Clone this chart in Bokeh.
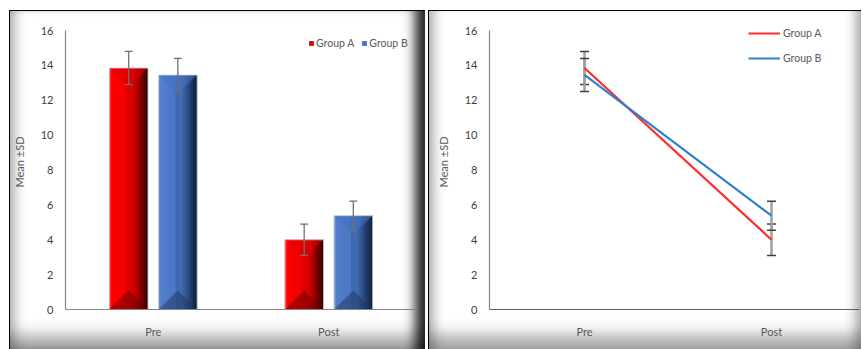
from bokeh.plotting import figure
from bokeh.models import (Range1d, FixedTicker, ColumnDataSource, Whisker, TeeHead,
                          Legend, LegendItem)
from bokeh.layouts import row
from bokeh.embed import file_html
from bokeh.resources import INLINE

# ---------------- data ----------------
categories = ["Pre", "Post"]
groups = ["Group A", "Group B"]
means_a = [13.85, 4.0]
sd_a = [0.95, 0.9]
means_b = [13.45, 5.38]
sd_b = [0.95, 0.83]
y_ticks = [0, 2, 4, 6, 8, 10, 12, 14, 16]
y_label = "Mean ±SD"

# ---------------- style ----------------
FONT = "Lato"
TICK_COLOR = "#404040"
LABEL_COLOR = "#595959"
AXIS_COLOR = "#868686"

positions = [i + 0.5 for i in range(len(categories))]

def style_axes(p):
    p.grid.visible = False
    p.xaxis.ticker = FixedTicker(ticks=positions)
    p.xaxis.major_label_overrides = {pos: c for pos, c in zip(positions, categories)}
    p.yaxis.ticker = FixedTicker(ticks=y_ticks)
    p.yaxis.bounds = (y_ticks[0], y_ticks[-1])
    for ax in (p.xaxis, p.yaxis):
        ax.axis_line_color = AXIS_COLOR
        ax.axis_line_width = 1.2
        ax.major_tick_line_color = None
        ax.minor_tick_line_color = None
        ax.major_tick_out = 0
        ax.major_tick_in = 0
        ax.minor_tick_out = 0
        ax.major_label_text_font = FONT
        ax.major_label_text_font_size = "11px"
    p.yaxis.major_label_text_color = TICK_COLOR
    p.xaxis.major_label_text_color = LABEL_COLOR
    p.yaxis.major_label_standoff = 12
    p.xaxis.major_label_standoff = 15
    p.yaxis.axis_label = y_label
    p.yaxis.axis_label_text_font = FONT
    p.yaxis.axis_label_text_font_size = "11px"
    p.yaxis.axis_label_text_font_style = "normal"
    p.yaxis.axis_label_text_color = LABEL_COLOR
    p.yaxis.axis_label_standoff = 12

PLOT_H = 339
FRAME_16 = 279                     # pixels spanned by 0..16
TOP_PAD = 4                        # figure top -> frame top
EXTRA = 16                         # frame top -> "16" tick (room for legends)
Y_MAX = y_ticks[-1]
px = Y_MAX / FRAME_16              # data units per pixel (styling only)
Y_END = Y_MAX + EXTRA * px
BOTTOM = PLOT_H - TOP_PAD - EXTRA - FRAME_16

# ---------------- bar chart ----------------
p1 = figure(width=416, height=PLOT_H, x_range=Range1d(0, 2), y_range=Range1d(0, Y_END),
            title=None, output_backend="svg", toolbar_location=None,
            min_border_left=53, min_border_right=9, min_border_top=TOP_PAD,
            min_border_bottom=BOTTOM,
            border_fill_color=None, background_fill_color=None, outline_line_color=None)
p1.margin = (10, 0, 0, 9)
style_axes(p1)
p1.styles = {
    "box-shadow": ("inset 1px 1px 0 0 #000, "
                   "inset 14px 0 12px -8px rgba(0,0,0,0.30), "
                   "inset -16px 0 12px -6px rgba(0,0,0,0.85), "
                   "inset 0 -22px 16px -8px rgba(0,0,0,0.35)")
}

bar_w = 0.22
offsets = [-0.14, 0.14]
N = 18
red_stops = [(0.0, (255, 80, 80)), (0.05, (255, 0, 0)), (0.42, (242, 0, 0)),
             (0.5, (210, 0, 0)), (0.56, (228, 0, 0)), (0.7, (185, 0, 0)),
             (0.85, (110, 0, 0)), (1.0, (40, 0, 0))]
blue_stops = [(0.0, (120, 158, 220)), (0.05, (82, 128, 206)), (0.42, (76, 120, 196)),
              (0.5, (58, 98, 165)), (0.56, (70, 112, 184)), (0.7, (52, 88, 150)),
              (0.85, (30, 55, 100)), (1.0, (12, 24, 48))]
base_colors = ["#e00000", "#4472c4"]
bottom_colors = ["#6a0000", "#1c3360"]

def interp(stops, t):
    for (t0, c0), (t1, c1) in zip(stops[:-1], stops[1:]):
        if t0 <= t <= t1:
            f = (t - t0) / (t1 - t0) if t1 > t0 else 0
            c = [int(round(a + (b - a) * f)) for a, b in zip(c0, c1)]
            return "#%02x%02x%02x" % tuple(c)
    return "#%02x%02x%02x" % stops[-1][1]

legend_items = []
for gi, (means, sds, stops) in enumerate([(means_a, sd_a, red_stops), (means_b, sd_b, blue_stops)]):
    centers = [pos + offsets[gi] for pos in positions]
    base = p1.vbar(x=centers, top=means, width=bar_w, fill_color=base_colors[gi], line_color=None)
    legend_items.append(LegendItem(label=groups[gi], renderers=[base]))
    xs, tops, cols = [], [], []
    for c, m in zip(centers, means):
        for i in range(N):
            t = (i + 0.5) / N
            xs.append(c - bar_w / 2 + t * bar_w)
            tops.append(m)
            cols.append(interp(stops, t))
    p1.vbar(x="x", top="top", width=bar_w / N * 1.08, fill_color="c", line_color=None,
            source=ColumnDataSource(dict(x=xs, top=tops, c=cols)))
    # bevel triangles (top face / bottom face)
    tx, ty, bx, by = [], [], [], []
    for c, m in zip(centers, means):
        l, r = c - bar_w / 2, c + bar_w / 2
        tx.append([l, r, c]); ty.append([m, m, m - 18 * px])
        bx.append([l, r, c]); by.append([0, 0, 19 * px])
    p1.patches(tx, ty, fill_color=base_colors[gi], fill_alpha=0.55, line_color=None)
    p1.patches(bx, by, fill_color=bottom_colors[gi], fill_alpha=0.5, line_color=None)
    p1.vbar(x=centers, top=means, width=bar_w, fill_color=None, line_color="#d8d8d8",
            line_width=1, line_alpha=0.8)
    src = ColumnDataSource(dict(x=centers, upper=[m + s for m, s in zip(means, sds)],
                                lower=[m - s for m, s in zip(means, sds)]))
    p1.add_layout(Whisker(source=src, base="x", upper="upper", lower="lower",
                          line_color="#707070", line_width=1.3, level="overlay",
                          upper_head=TeeHead(size=8, line_color="#707070", line_width=1.3),
                          lower_head=TeeHead(size=8, line_color="#707070", line_width=1.3)))

leg1 = Legend(items=legend_items, orientation="horizontal", location=(243, 260),
              glyph_width=6, glyph_height=6, label_standoff=2, spacing=7, padding=0, margin=0,
              border_line_color=None, background_fill_color=None, background_fill_alpha=0,
              label_text_font=FONT, label_text_font_size="10.5px", label_text_color=LABEL_COLOR,
              label_height=12)
p1.add_layout(leg1)

# ---------------- line chart ----------------
P2_W = 433
p2_frame_w = P2_W - 61 - 2
x_start = -0.008
p2 = figure(width=P2_W, height=PLOT_H,
            x_range=Range1d(x_start, x_start + p2_frame_w / 187.0),
            y_range=Range1d(0, Y_END),
            title=None, output_backend="svg", toolbar_location=None,
            min_border_left=61, min_border_right=2, min_border_top=TOP_PAD,
            min_border_bottom=BOTTOM,
            border_fill_color=None, background_fill_color=None, outline_line_color=None)
p2.margin = (10, 0, 0, 3)
style_axes(p2)
p2.xaxis.axis_line_color = "#606060"
p2.styles = {
    "box-shadow": ("inset 1px 1px 0 0 #000, "
                   "inset 14px 0 12px -8px rgba(0,0,0,0.30), "
                   "inset -14px 0 12px -8px rgba(0,0,0,0.30), "
                   "inset 0 -22px 16px -8px rgba(0,0,0,0.35)")
}

line_colors = ["#ff2a2a", "#2e7fd0"]
items2 = []
for gi, (means, sds) in enumerate([(means_a, sd_a), (means_b, sd_b)]):
    src = ColumnDataSource(dict(x=positions, upper=[m + s for m, s in zip(means, sds)],
                                lower=[m - s for m, s in zip(means, sds)]))
    p2.add_layout(Whisker(source=src, base="x", upper="upper", lower="lower",
                          line_color="#a0a0a0", line_width=2.5,
                          upper_head=TeeHead(size=9, line_color="#404040", line_width=1.5),
                          lower_head=TeeHead(size=9, line_color="#404040", line_width=1.5)))
for gi, means in enumerate([means_a, means_b]):
    r = p2.line(x=positions, y=means, line_color=line_colors[gi], line_width=2.2)
    items2.append(LegendItem(label=groups[gi], renderers=[r]))

leg2 = Legend(items=items2, location=(259, 241), glyph_width=32, glyph_height=20,
              label_standoff=3, spacing=5, padding=0, margin=0,
              border_line_color=None, background_fill_color=None, background_fill_alpha=0,
              label_text_font=FONT, label_text_font_size="10.5px", label_text_color=LABEL_COLOR,
              label_height=20)
p2.add_layout(leg2)

layout = row(p1, p2)
open("out.html", "w").write(file_html(layout, INLINE))
